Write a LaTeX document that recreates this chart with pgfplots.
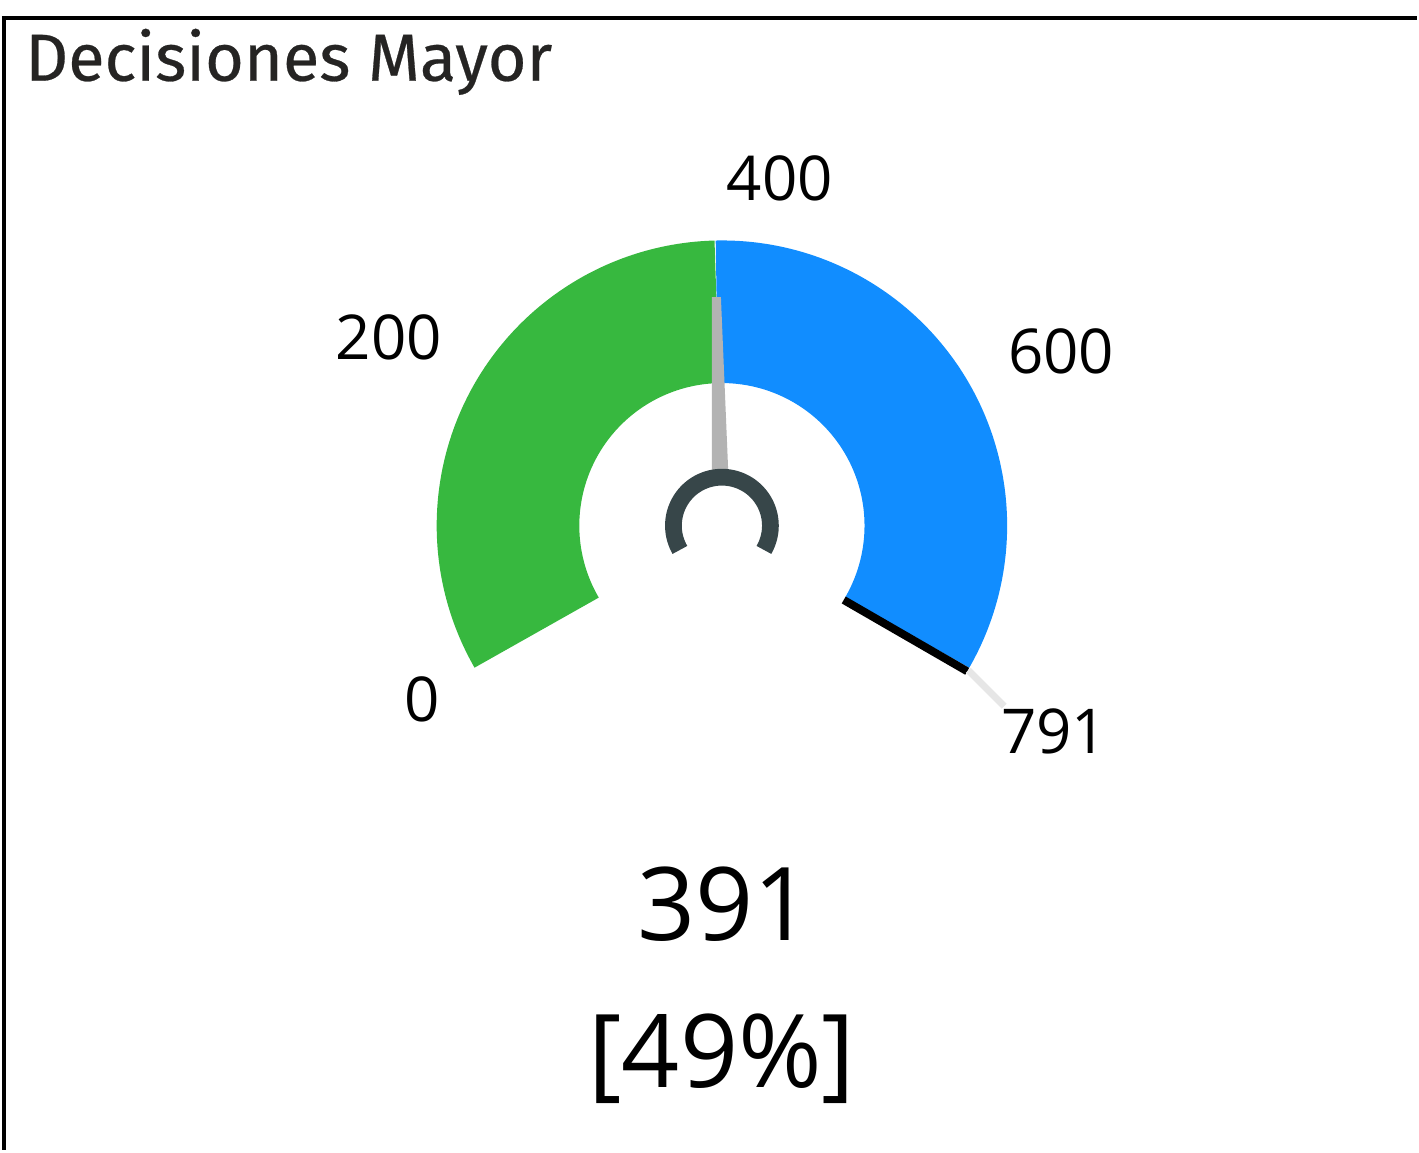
\documentclass[border=0pt]{standalone}
\usepackage{pgfplots}
\pgfplotsset{compat=1.18}
\usepackage{fontspec}
\setmainfont{Open Sans}
\newfontfamily\titlefont[FakeBold=0.4]{Fira Sans}
\definecolor{gGreen}{HTML}{37B83F}
\definecolor{gBlue}{HTML}{118DFF}
\definecolor{gHub}{HTML}{374649}
\definecolor{gNeedle}{HTML}{B3B3B3}
\definecolor{gLead}{HTML}{E6E6E6}
\definecolor{gTitle}{HTML}{252423}
\def\gval{391}
\def\gmax{791}
\begin{document}
\begin{tikzpicture}
\begin{axis}[
  x=71.5pt, y=71.5pt,
  xmin=-2.524, xmax=2.437, ymin=-2.189, ymax=1.843,
  hide axis, clip=false, scale only axis,
]
% bounding rectangle
\path (rel axis cs:0,0) rectangle (rel axis cs:1,1);
% frame
\draw[black, line width=1pt] (axis cs:-2.524,1.780) -- (axis cs:2.437,1.780);
\draw[black, line width=1pt] (axis cs:-2.517,1.780) -- (axis cs:-2.517,-2.189);
% gauge bands
\addplot[gGreen, line width=35.75pt, domain=0:\gval, samples=120, variable=\v]
  ({0.75*cos(210-240*\v/\gmax)}, {0.75*sin(210-240*\v/\gmax)});
\addplot[gBlue, line width=35.75pt, domain=\gval:\gmax, samples=120, variable=\v]
  ({0.75*cos(210-240*\v/\gmax)}, {0.75*sin(210-240*\v/\gmax)});
% max marker and leader
\addplot[black, line width=2pt] coordinates {(0.4270,-0.2605) (0.8600,-0.5105)};
\addplot[gLead, line width=1.75pt] coordinates {(0.8636,-0.507) (0.9895,-0.6329)};
% needle
\addplot[fill=gNeedle, draw=none] coordinates {(-0.035,0.17) (0.023,0.17) (-0.0035,0.801) (-0.035,0.801)} -- cycle;
% hub
\addplot[gHub, line width=4.2pt, domain=0:\gmax, samples=80, variable=\v]
  ({0.17*cos(210-240*\v/\gmax)}, {0.17*sin(210-240*\v/\gmax)});
% labels
\node[anchor=base, inner sep=0pt, font=\fontsize{15.5}{18}\selectfont] at (axis cs:-1.052,-0.685) {0};
\node[anchor=base, inner sep=0pt, font=\fontsize{15.5}{18}\selectfont] at (axis cs:-1.168,0.584) {200};
\node[anchor=base, inner sep=0pt, font=\fontsize{15.5}{18}\selectfont] at (axis cs:0.203,1.140) {400};
\node[anchor=base, inner sep=0pt, font=\fontsize{15.5}{18}\selectfont] at (axis cs:1.189,0.535) {600};
\node[anchor=base, inner sep=0pt, font=\fontsize{15.5}{18}\selectfont] at (axis cs:1.165,-0.797) {791};
\node[anchor=base, inner sep=0pt, font=\fontsize{25.5}{30}\selectfont] at (axis cs:0.010,-1.455) {391};
\node[anchor=base, inner sep=0pt, font=\fontsize{25.5}{30}\selectfont] at (axis cs:0,-1.969) {[49\%]};
\node[anchor=base west, inner sep=0pt, text=gTitle, font=\titlefont\fontsize{16.7}{20}\selectfont] at (axis cs:-2.445,1.560) {Decisiones Mayor};
\end{axis}
\end{tikzpicture}
\end{document}
